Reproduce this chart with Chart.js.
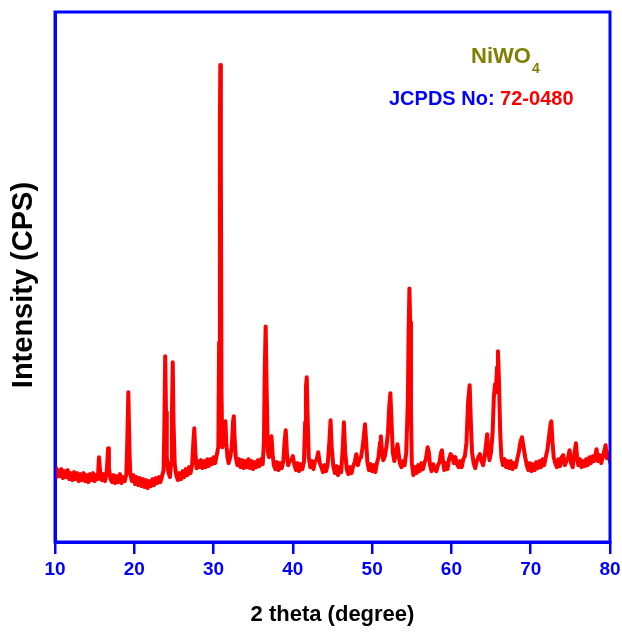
<!DOCTYPE html>
<html>
<head>
<meta charset="utf-8">
<script src="https://cdn.jsdelivr.net/npm/chart.js@4.4.0/dist/chart.umd.min.js"></script>
<style>
  html, body { margin: 0; padding: 0; background: #fff; }
  #wrap { width: 622px; height: 632px; position: relative; }
</style>
</head>
<body>
<div id="wrap"><canvas id="xrdChart" width="622" height="632"></canvas></div>
<script>
// 2 theta (degree) and intensity (arbitrary CPS units)
const twoTheta = [
  10.0, 10.1, 10.2, 10.4, 10.6, 10.8, 11.0, 11.2, 11.4, 11.6, 11.8, 12.0, 12.2, 12.4, 12.6, 12.8,
  13.0, 13.2, 13.4, 13.6, 13.8, 14.0, 14.2, 14.4, 14.6, 14.8, 15.0, 15.2, 15.4, 15.55, 15.7, 15.9,
  16.1, 16.3, 16.5, 16.6, 16.7, 16.8, 17.0, 17.2, 17.4, 17.6, 17.8, 18.0, 18.2, 18.4, 18.6, 18.8,
  19.0, 19.1, 19.25, 19.4, 19.5, 19.7, 19.9, 20.1, 20.3, 20.5, 20.7, 20.9, 21.1, 21.3, 21.5, 21.7,
  21.9, 22.1, 22.3, 22.5, 22.7, 22.9, 23.1, 23.3, 23.5, 23.7, 23.8, 23.9, 24.0, 24.1, 24.3, 24.5,
  24.65, 24.75, 24.85, 24.95, 25.1, 25.3, 25.5, 25.7, 25.9, 26.1, 26.3, 26.5, 26.7, 26.9, 27.1, 27.3,
  27.45, 27.57, 27.7, 27.85, 28.0, 28.2, 28.4, 28.6, 28.8, 29.0, 29.2, 29.4, 29.6, 29.8, 30.0, 30.2,
  30.4, 30.6, 30.7, 30.8, 30.85, 30.92, 31.0, 31.1, 31.25, 31.4, 31.5, 31.6, 31.75, 31.9, 32.1, 32.3,
  32.45, 32.55, 32.65, 32.8, 33.0, 33.2, 33.4, 33.6, 33.8, 34.0, 34.2, 34.4, 34.6, 34.8, 35.0, 35.2,
  35.4, 35.6, 35.8, 36.0, 36.2, 36.35, 36.45, 36.57, 36.7, 36.85, 37.0, 37.15, 37.3, 37.45, 37.6, 37.8,
  38.0, 38.2, 38.4, 38.6, 38.8, 38.95, 39.1, 39.25, 39.4, 39.6, 39.8, 40.0, 40.2, 40.4, 40.6, 40.8,
  41.0, 41.2, 41.4, 41.55, 41.65, 41.75, 41.85, 42.0, 42.2, 42.4, 42.6, 42.8, 43.0, 43.2, 43.4, 43.6,
  43.8, 44.0, 44.2, 44.4, 44.6, 44.76, 44.9, 45.1, 45.3, 45.5, 45.7, 45.9, 46.1, 46.3, 46.44, 46.6,
  46.8, 47.0, 47.2, 47.4, 47.6, 47.8, 48.0, 48.2, 48.4, 48.6, 48.8, 49.0, 49.1, 49.25, 49.4, 49.6,
  49.8, 50.0, 50.2, 50.4, 50.6, 50.8, 51.0, 51.1, 51.25, 51.4, 51.6, 51.8, 52.0, 52.15, 52.3, 52.45,
  52.6, 52.8, 53.0, 53.2, 53.35, 53.5, 53.7, 53.9, 54.1, 54.3, 54.5, 54.6, 54.7, 54.8, 54.9, 55.0,
  55.2, 55.4, 55.6, 55.8, 56.0, 56.2, 56.4, 56.6, 56.8, 57.0, 57.15, 57.3, 57.5, 57.7, 57.9, 58.1,
  58.3, 58.5, 58.7, 58.8, 58.95, 59.1, 59.3, 59.5, 59.7, 59.9, 60.1, 60.3, 60.5, 60.7, 60.9, 61.1,
  61.3, 61.5, 61.7, 61.9, 62.1, 62.3, 62.45, 62.6, 62.8, 63.0, 63.2, 63.4, 63.6, 63.8, 64.0, 64.2,
  64.4, 64.5, 64.65, 64.8, 65.0, 65.2, 65.35, 65.5, 65.6, 65.75, 65.87, 66.0, 66.15, 66.3, 66.5, 66.7,
  66.9, 67.1, 67.3, 67.5, 67.7, 67.9, 68.1, 68.3, 68.5, 68.7, 68.9, 69.1, 69.3, 69.5, 69.7, 69.9,
  70.1, 70.3, 70.5, 70.7, 70.9, 71.1, 71.3, 71.5, 71.7, 71.9, 72.1, 72.3, 72.5, 72.6, 72.75, 72.9,
  73.1, 73.3, 73.5, 73.7, 73.9, 74.1, 74.3, 74.5, 74.7, 74.9, 75.1, 75.3, 75.5, 75.7, 75.85, 76.0,
  76.2, 76.4, 76.6, 76.8, 77.0, 77.2, 77.4, 77.6, 77.8, 78.0, 78.3, 78.5, 78.7, 78.9, 79.1, 79.3,
  79.45, 79.6, 79.8, 80.0
];
const intensity = [
  70, 75, 65, 72, 66, 73, 64, 71, 65, 72, 63, 69, 62, 70, 63, 69,
  61, 68, 62, 69, 61, 67, 60, 68, 62, 69, 61, 67, 63, 85, 70, 62,
  68, 61, 69, 80, 94, 74, 63, 60, 67, 59, 66, 60, 68, 59, 65, 61,
  68, 95, 150, 90, 68, 61, 67, 58, 65, 57, 64, 56, 63, 55, 62, 54,
  61, 56, 63, 57, 64, 59, 65, 60, 66, 72, 120, 186, 130, 85, 70, 65,
  80, 130, 180, 120, 78, 67, 62, 69, 63, 71, 65, 73, 67, 75, 69, 78,
  100, 114, 90, 74, 81, 75, 82, 74, 81, 75, 83, 76, 83, 78, 85, 79,
  87, 95, 200, 420, 478, 380, 150, 95, 100, 115, 121, 100, 85, 79, 85, 95,
  120, 126, 105, 85, 77, 83, 75, 82, 74, 81, 75, 83, 74, 81, 73, 80,
  75, 82, 76, 83, 78, 100, 170, 216, 150, 90, 85, 95, 106, 88, 77, 73,
  80, 72, 79, 74, 81, 100, 112, 90, 77, 81, 82, 86, 77, 72, 79, 71,
  78, 73, 80, 120, 155, 165, 130, 85, 75, 81, 73, 81, 82, 90, 79, 75,
  70, 77, 71, 78, 100, 122, 95, 76, 69, 76, 67, 75, 70, 95, 120, 90,
  73, 68, 75, 69, 76, 80, 88, 77, 83, 85, 95, 110, 118, 100, 80, 72,
  78, 71, 77, 70, 79, 85, 100, 106, 90, 82, 86, 95, 110, 135, 149, 120,
  90, 81, 88, 98, 88, 79, 75, 81, 77, 90, 140, 210, 254, 220, 130, 80,
  67, 75, 69, 77, 71, 79, 73, 79, 84, 95, 90, 77, 71, 78, 73, 71,
  77, 80, 90, 92, 80, 72, 79, 73, 83, 88, 86, 79, 85, 78, 75, 81,
  75, 83, 86, 100, 140, 157, 120, 90, 79, 74, 81, 85, 88, 81, 77, 86,
  100, 108, 92, 82, 90, 110, 145, 158, 150, 175, 191, 160, 110, 85, 77, 83,
  75, 81, 74, 81, 73, 79, 75, 83, 90, 100, 105, 95, 85, 77, 72, 79,
  71, 78, 72, 80, 74, 81, 75, 83, 77, 85, 92, 105, 118, 121, 100, 85,
  79, 75, 83, 76, 85, 87, 77, 81, 84, 92, 79, 75, 88, 99, 85, 77,
  83, 75, 81, 76, 83, 77, 85, 79, 86, 81, 93, 81, 87, 79, 86, 92,
  97, 84, 89, 80
];
const xTicks = [10, 20, 30, 40, 50, 60, 70, 80];

const BLUE = '#0000ff';
const RED = '#ff0000';
const FONT = '"Liberation Sans", Arial, Helvetica, sans-serif';

const points = twoTheta.map((t, i) => ({ x: t, y: intensity[i] }));

// frame round the plot area + the NiWO4 / JCPDS label
const framePlugin = {
  id: 'framePlugin',
  afterDraw(chart) {
    const { ctx, chartArea } = chart;
    ctx.save();
    ctx.strokeStyle = BLUE;
    ctx.lineWidth = 3;
    ctx.strokeRect(chartArea.left, chartArea.top, chartArea.right - chartArea.left, chartArea.bottom - chartArea.top);

    ctx.textBaseline = 'alphabetic';
    ctx.textAlign = 'left';
    ctx.fillStyle = '#808000';
    ctx.font = 'bold 22px ' + FONT;
    ctx.fillText('NiWO', 471, 63);
    const w = ctx.measureText('NiWO').width;
    ctx.font = 'bold 14px ' + FONT;
    ctx.fillText('4', 471 + w + 1, 73);

    ctx.font = 'bold 20px ' + FONT;
    ctx.fillStyle = BLUE;
    ctx.fillText('JCPDS No: ', 389, 105);
    const w2 = ctx.measureText('JCPDS No: ').width;
    ctx.fillStyle = RED;
    ctx.fillText('72-0480', 389 + w2, 105);
    ctx.restore();
  }
};

const ctx = document.getElementById('xrdChart').getContext('2d');
new Chart(ctx, {
  type: 'line',
  data: {
    datasets: [{
      label: 'NiWO4',
      data: points,
      borderColor: RED,
      backgroundColor: RED,
      borderWidth: 4,
      borderJoinStyle: 'round',
      borderCapStyle: 'round',
      pointRadius: 0,
      tension: 0,
      fill: false
    }]
  },
  options: {
    responsive: false,
    animation: false,
    events: [],
    layout: { padding: { top: 12, right: 12, left: 0, bottom: 0 } },
    plugins: {
      legend: { display: false },
      tooltip: { enabled: false }
    },
    scales: {
      x: {
        type: 'linear',
        min: 10,
        max: 80,
        afterBuildTicks: s => { s.ticks = xTicks.map(v => ({ value: v })); },
        afterFit: s => { s.height = 90; s.paddingLeft = 0; s.paddingRight = 0; },
        border: { color: BLUE, width: 3 },
        grid: {
          drawOnChartArea: false,
          drawTicks: true,
          tickLength: 12,
          color: BLUE,
          lineWidth: 2.5
        },
        ticks: {
          color: BLUE,
          padding: 4,
          maxRotation: 0,
          font: { family: FONT, size: 19, weight: 'bold' }
        },
        title: {
          display: true,
          text: '2 theta (degree)',
          color: '#000',
          padding: { top: 4, bottom: 4 },
          font: { family: FONT, size: 22, weight: 'bold' }
        }
      },
      y: {
        min: 0,
        max: 531,
        afterFit: s => { s.width = 55; },
        border: { color: BLUE, width: 3 },
        grid: { display: false },
        ticks: { display: false },
        title: {
          display: true,
          // two trailing no-break spaces nudge the rotated title a little lower
          text: 'Intensity (CPS)\u00A0\u00A0',
          color: '#000',
          padding: { top: 7, bottom: 0 },
          font: { family: FONT, size: 29, weight: 'bold' }
        }
      }
    }
  },
  plugins: [framePlugin]
});
</script>
</body>
</html>
